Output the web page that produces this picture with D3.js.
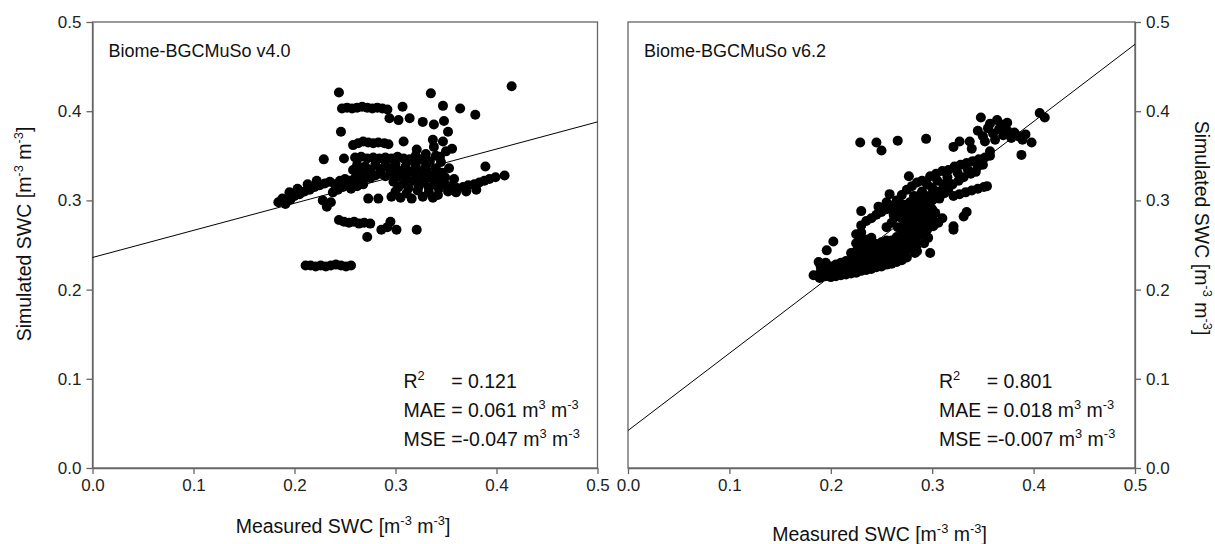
<!DOCTYPE html>
<html>
<head>
<meta charset="utf-8">
<script src="https://cdn.jsdelivr.net/npm/d3@7"></script>
<style>
  body { margin: 0; background: #fff; }
  svg { display: block; font-family: "Liberation Sans", Arial, sans-serif; }
  text { white-space: pre; }
</style>
</head>
<body>
<svg id="chart" width="1215" height="544"></svg>
<script>
// tick values shared by both axes of both panels
const ticks = [0, 0.1, 0.2, 0.3, 0.4, 0.5];
const panelNames = ["Biome-BGCMuSo v4.0", "Biome-BGCMuSo v6.2"];
const r2Values = ["0.121", "0.801"];
const maeValues = [" 0.061", " 0.018"];
const mseValues = ["-0.047", "-0.007"];
// regression line: simulated value at measured = 0 and measured = 0.5
const fitLines = [[0.236, 0.388], [0.042, 0.475]];

// measured, simulated
const v40Points = [
  [0.244,0.421],[0.335,0.420],[0.415,0.428],
  [0.247,0.403],[0.252,0.404],[0.257,0.403],[0.262,0.404],[0.267,0.405],[0.272,0.404],[0.277,0.403],[0.282,0.404],[0.287,0.403],[0.292,0.402],
  [0.307,0.405],[0.347,0.406],[0.364,0.403],[0.379,0.396],
  [0.294,0.392],[0.303,0.390],[0.314,0.392],[0.327,0.388],[0.338,0.385],[0.348,0.389],
  [0.246,0.377],[0.352,0.377],
  [0.258,0.362],[0.263,0.364],[0.268,0.366],[0.273,0.365],[0.278,0.364],[0.283,0.365],[0.289,0.364],[0.293,0.363],
  [0.308,0.366],[0.337,0.368],[0.347,0.366],[0.356,0.358],[0.321,0.357],
  [0.229,0.346],[0.249,0.347],
  [0.260,0.348],[0.266,0.349],[0.272,0.347],[0.278,0.348],[0.284,0.347],[0.290,0.348],[0.296,0.347],[0.302,0.349],[0.308,0.347],[0.314,0.346],
  [0.344,0.349],[0.353,0.336],[0.389,0.338],[0.399,0.326],[0.408,0.328],
  [0.340,0.350],[0.345,0.343],[0.350,0.355],[0.338,0.360],
  [0.318,0.344],[0.326,0.346],[0.334,0.344],[0.320,0.350],[0.330,0.352],
  [0.262,0.340],[0.270,0.338],[0.280,0.340],[0.290,0.339],[0.300,0.341],[0.310,0.338],[0.320,0.340],[0.330,0.338],[0.340,0.336],
  [0.258,0.334],[0.266,0.332],[0.275,0.334],[0.285,0.335],[0.294,0.336],[0.302,0.334],[0.311,0.333],[0.321,0.335],[0.331,0.333],[0.341,0.332],
  [0.296,0.331],[0.306,0.329],[0.316,0.332],[0.326,0.330],[0.336,0.328],[0.346,0.331],
  [0.301,0.326],[0.311,0.324],[0.321,0.326],[0.331,0.325],[0.341,0.326],
  [0.298,0.321],[0.308,0.319],[0.318,0.322],[0.328,0.320],[0.338,0.318],[0.346,0.321],
  [0.303,0.315],[0.313,0.314],[0.323,0.316],[0.333,0.314],[0.343,0.313],
  [0.300,0.310],[0.311,0.308],[0.322,0.311],[0.333,0.309],[0.342,0.306],
  [0.305,0.303],[0.316,0.302],[0.327,0.304],[0.337,0.303],
  [0.349,0.318],[0.355,0.316],[0.361,0.314],[0.367,0.315],[0.372,0.317],[0.378,0.318],[0.383,0.320],[0.388,0.322],[0.393,0.324],
  [0.352,0.310],[0.360,0.309],[0.370,0.310],[0.380,0.312],[0.349,0.326],[0.358,0.324],
  [0.184,0.298],[0.188,0.302],[0.191,0.296],[0.196,0.301],[0.200,0.305],[0.205,0.307],[0.210,0.310],[0.215,0.312],[0.220,0.315],
  [0.225,0.317],[0.230,0.319],[0.235,0.321],[0.240,0.318],[0.245,0.322],[0.250,0.324],[0.255,0.322],[0.260,0.325],[0.265,0.323],
  [0.270,0.326],[0.275,0.325],[0.280,0.328],[0.285,0.330],[0.290,0.327],
  [0.195,0.309],[0.203,0.313],[0.213,0.318],[0.222,0.322],[0.238,0.309],[0.243,0.312],[0.248,0.315],[0.256,0.313],[0.262,0.316],[0.268,0.318],
  [0.228,0.300],[0.236,0.298],[0.232,0.293],
  [0.273,0.302],[0.283,0.302],[0.296,0.304],
  [0.244,0.278],[0.249,0.276],[0.254,0.275],[0.259,0.276],[0.264,0.274],[0.269,0.275],[0.275,0.274],
  [0.295,0.276],[0.286,0.267],[0.301,0.267],[0.321,0.267],[0.292,0.270],
  [0.272,0.259],
  [0.211,0.227],[0.216,0.227],[0.221,0.226],[0.226,0.227],[0.231,0.226],[0.236,0.227],[0.241,0.228],[0.246,0.227],[0.251,0.226],[0.256,0.227]
];

const v62Points = [
  [0.229,0.365],[0.245,0.365],[0.250,0.356],[0.266,0.367],[0.294,0.369],
  [0.348,0.393],[0.364,0.390],[0.374,0.387],[0.406,0.398],[0.411,0.393],
  [0.345,0.378],[0.350,0.372],[0.355,0.381],[0.360,0.375],[0.362,0.368],[0.366,0.380],[0.370,0.373],[0.374,0.378],
  [0.378,0.370],[0.381,0.376],[0.385,0.372],[0.389,0.368],[0.352,0.366],[0.368,0.385],[0.357,0.386],[0.392,0.374],
  [0.398,0.365],[0.388,0.351],[0.357,0.355],
  [0.321,0.360],[0.327,0.366],[0.337,0.366],[0.339,0.358],
  [0.298,0.327],[0.304,0.330],[0.310,0.333],[0.316,0.334],[0.322,0.338],[0.328,0.340],[0.334,0.342],[0.340,0.344],
  [0.346,0.346],[0.352,0.348],[0.357,0.350],[0.305,0.322],[0.315,0.326],[0.325,0.331],[0.335,0.335],[0.345,0.338],[0.350,0.340],
  [0.277,0.327],
  [0.321,0.305],[0.327,0.307],[0.333,0.309],[0.339,0.311],[0.345,0.313],[0.351,0.315],[0.354,0.316],
  [0.258,0.307],[0.230,0.288],[0.247,0.293],
  [0.265,0.300],[0.270,0.306],[0.275,0.312],[0.280,0.316],[0.285,0.320],[0.290,0.322],[0.295,0.318],[0.300,0.314],
  [0.282,0.305],[0.290,0.310],[0.272,0.295],[0.278,0.298],[0.286,0.300],[0.294,0.304],[0.300,0.300],[0.306,0.310],[0.311,0.318],
  [0.255,0.270],[0.260,0.275],[0.262,0.284],[0.268,0.297],[0.277,0.291],[0.283,0.295],[0.288,0.306],[0.292,0.297],
  [0.297,0.305],[0.302,0.307],[0.307,0.302],[0.312,0.308],[0.316,0.313],[0.320,0.318],[0.326,0.322],[0.331,0.326],[0.338,0.330],[0.343,0.332],
  [0.285,0.243],[0.292,0.252],[0.296,0.258],[0.306,0.275],[0.310,0.280],
  [0.303,0.286],[0.331,0.282],[0.334,0.287],[0.321,0.271],[0.298,0.271],
  [0.321,0.267],[0.285,0.263],[0.295,0.267],[0.301,0.271],
  [0.273,0.239],[0.283,0.241],[0.298,0.241],
  [0.2025,0.254],[0.196,0.244],
  [0.188,0.231],[0.183,0.216],[0.189,0.213],
  [0.190,0.220],[0.190,0.226],
  [0.195,0.215],[0.195,0.222],[0.195,0.230],
  [0.200,0.214],[0.200,0.220],[0.200,0.226],
  [0.205,0.215],[0.205,0.221],[0.205,0.228],
  [0.210,0.216],[0.210,0.222],[0.210,0.230],
  [0.215,0.217],[0.215,0.224],[0.215,0.232],
  [0.220,0.218],[0.220,0.225],[0.220,0.233],[0.220,0.241],
  [0.225,0.219],[0.225,0.226],[0.225,0.234],[0.225,0.243],[0.225,0.252],[0.225,0.262],
  [0.230,0.221],[0.230,0.228],[0.230,0.236],[0.230,0.245],[0.230,0.254],[0.230,0.264],[0.230,0.272],
  [0.235,0.222],[0.235,0.230],[0.235,0.238],[0.235,0.247],[0.235,0.256],[0.235,0.277],
  [0.240,0.223],[0.240,0.231],[0.240,0.240],[0.240,0.249],[0.240,0.258],[0.240,0.280],
  [0.245,0.225],[0.245,0.233],[0.245,0.242],[0.245,0.251],[0.245,0.284],
  [0.250,0.226],[0.250,0.235],[0.250,0.244],[0.250,0.253],[0.250,0.287],
  [0.255,0.228],[0.255,0.237],[0.255,0.246],[0.255,0.255],[0.255,0.290],[0.255,0.298],
  [0.260,0.229],[0.260,0.238],[0.260,0.247],[0.260,0.255],[0.263,0.281],[0.260,0.294],
  [0.265,0.231],[0.265,0.240],[0.265,0.249],[0.265,0.259],[0.266,0.270],[0.265,0.288],
  [0.270,0.233],[0.270,0.242],[0.270,0.251],[0.270,0.261],[0.270,0.270],[0.270,0.280],[0.270,0.290],
  [0.275,0.236],[0.275,0.245],[0.275,0.254],[0.275,0.263],[0.275,0.273],[0.275,0.283],
  [0.280,0.247],[0.280,0.256],[0.280,0.266],[0.280,0.276],[0.280,0.286],
  [0.285,0.250],[0.285,0.259],[0.285,0.269],[0.285,0.279],[0.285,0.289],
  [0.290,0.262],[0.290,0.272],[0.290,0.282],[0.290,0.292],
  [0.295,0.276],[0.295,0.285],[0.295,0.295],
  [0.300,0.280],[0.300,0.290]
];

const svg = d3.select("#chart");
const fmt = d3.format(".1f");
const axisColor = "#666";
const tickFont = 17;
const titleFont = 19.5;
const statFont = 19.5;

const yScale = d3.scaleLinear().domain([0, 0.5]).range([468, 22]);

const panels = [
  { x0: 92.5, x1: 597.5, side: "left", points: v40Points, titleY: 533, yTitleX: 31, yTitleY: 234 },
  { x0: 628, x1: 1135, side: "right", points: v62Points, titleY: 541, yTitleX: 1195, yTitleY: 228 }
];

// text with superscript parts: parts = [[text, isSup], ...]
function richText(sel, parts, size) {
  const shift = size * 0.42;
  parts.forEach(([t, sup], i) => {
    const prevSup = i > 0 && parts[i - 1][1];
    const ts = sel.append("tspan").text(t);
    if (sup) ts.attr("font-size", size * 0.66).attr("dy", -shift);
    else if (prevSup) ts.attr("dy", shift);
  });
  return sel;
}

const unitParts = [["m"], ["3", true], [" m"], ["-3", true]];

panels.forEach((p, i) => {
  const x = d3.scaleLinear().domain([0, 0.5]).range([p.x0, p.x1]);
  const g = svg.append("g");

  // frame
  g.append("rect")
    .attr("x", p.x0).attr("y", yScale(0.5))
    .attr("width", p.x1 - p.x0).attr("height", yScale(0) - yScale(0.5))
    .attr("fill", "none").attr("stroke", axisColor).attr("stroke-width", 1.3);

  // axes
  const xAxis = d3.axisBottom(x).tickValues(ticks).tickFormat(fmt).tickSize(6).tickSizeOuter(0).tickPadding(5);
  const yAxis = (p.side === "left" ? d3.axisLeft(yScale) : d3.axisRight(yScale))
    .tickValues(ticks).tickFormat(fmt).tickSize(6).tickSizeOuter(0).tickPadding(5);

  [g.append("g").attr("transform", `translate(0,${yScale(0)})`).call(xAxis),
   g.append("g").attr("transform", `translate(${p.side === "left" ? p.x0 : p.x1},0)`).call(yAxis)]
    .forEach(a => {
      a.select(".domain").attr("stroke", axisColor).attr("stroke-width", 1.3);
      a.selectAll(".tick line").attr("stroke", axisColor).attr("stroke-width", 1.3);
      a.selectAll(".tick text").attr("fill", "#222").attr("font-size", tickFont)
        .attr("font-family", "Liberation Sans, Arial, sans-serif");
    });

  // regression line
  const fit = fitLines[i];
  g.append("line")
    .attr("x1", x(0)).attr("y1", yScale(fit[0]))
    .attr("x2", x(0.5)).attr("y2", yScale(fit[1]))
    .attr("stroke", "#000").attr("stroke-width", 1);

  // points
  g.append("g").selectAll("circle")
    .data(p.points)
    .join("circle")
    .attr("cx", d => x(d[0]))
    .attr("cy", d => yScale(d[1]))
    .attr("r", 5)
    .attr("fill", "#000");

  // panel name
  g.append("text")
    .attr("x", p.x0 + 16).attr("y", 57)
    .attr("font-size", 18).attr("fill", "#111")
    .text(panelNames[i]);

  // stats
  const sx = p.x0 + 311;
  const probe = g.append("text").attr("font-size", statFont).text("MAE ");
  const eqOffset = probe.node().getComputedTextLength();
  probe.remove();

  richText(g.append("text").attr("x", sx).attr("y", 388).attr("font-size", statFont).attr("fill", "#111"),
    [["R"], ["2", true]], statFont);
  g.append("text").attr("x", sx + eqOffset).attr("y", 388).attr("font-size", statFont).attr("fill", "#111")
    .text("= " + r2Values[i]);
  richText(g.append("text").attr("x", sx).attr("y", 417).attr("font-size", statFont).attr("fill", "#111"),
    [["MAE =" + maeValues[i] + " "]].concat(unitParts), statFont);
  richText(g.append("text").attr("x", sx).attr("y", 446).attr("font-size", statFont).attr("fill", "#111"),
    [["MSE =" + mseValues[i] + " "]].concat(unitParts), statFont);

  // x title
  richText(g.append("text")
    .attr("x", (p.x0 + p.x1) / 2 - 2).attr("y", p.titleY)
    .attr("text-anchor", "middle").attr("font-size", titleFont).attr("fill", "#111"),
    [["Measured SWC [m"], ["-3", true], [" m"], ["-3", true], ["]"]], titleFont);

  // y title
  richText(g.append("text")
    .attr("transform", `translate(${p.yTitleX},${p.yTitleY}) rotate(${p.side === "left" ? -90 : 90})`)
    .attr("text-anchor", "middle").attr("font-size", titleFont).attr("fill", "#111"),
    [["Simulated SWC [m"], ["-3", true], [" m"], ["-3", true], ["]"]], titleFont);
});
</script>
</body>
</html>
